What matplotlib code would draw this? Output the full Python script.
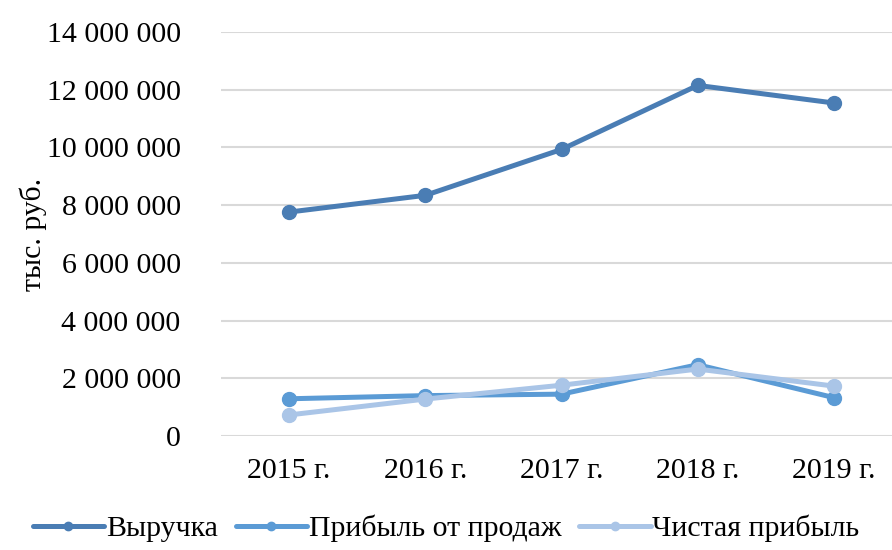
import numpy as np
import matplotlib.pyplot as plt
from matplotlib.ticker import FuncFormatter

plt.rcParams['font.family'] = ['Liberation Serif', 'DejaVu Serif']

years = ['2015 г.', '2016 г.', '2017 г.', '2018 г.', '2019 г.']
revenue = [7760000, 8340000, 9930000, 12150000, 11540000]
sales_profit = [1290000, 1400000, 1450000, 2470000, 1330000]
net_profit = [730000, 1280000, 1760000, 2320000, 1730000]

series = [
    ('Выручка', revenue, '#4a7db4'),
    ('Прибыль от продаж', sales_profit, '#5b9bd5'),
    ('Чистая прибыль', net_profit, '#aac5e7'),
]

fig = plt.figure(figsize=(8.92, 5.5), dpi=100)
ax = fig.add_axes([221 / 892, 1 - 436 / 550, 681 / 892, 404 / 550])

x = np.arange(len(years))
for name, vals, col in series:
    ax.plot(x, vals, color=col, lw=3.6, marker='o', ms=10, label=name,
            solid_capstyle='round', zorder=3)

ax.set_xlim(-0.5, len(years) - 0.5)
ax.set_ylim(0, 14000000)
ax.set_yticks(np.arange(0, 14000001, 2000000))
ax.yaxis.set_major_formatter(FuncFormatter(lambda v, p: f'{int(v):,}'.replace(',', ' ')))
ax.set_xticks(x)
ax.set_xticklabels(years)
ax.tick_params(length=0, labelsize=21.5, colors='black')
ax.tick_params(axis='y', pad=29)
ax.tick_params(axis='x', pad=16)
ax.grid(axis='y', color='#d9d9d9', lw=1.5)
ax.set_axisbelow(True)
for s in ax.spines.values():
    s.set_visible(False)
ax.set_ylabel('тыс. руб.', fontsize=21.5)
ax.yaxis.set_label_coords(-0.255, 0.5)

fig.legend(loc='lower center', bbox_to_anchor=(0.5, -0.035), ncol=3, frameon=False,
           fontsize=21.5, handlelength=2.4, handletextpad=0.05, columnspacing=0.6,
           markerscale=0.6)

fig.savefig('out.png', dpi=100)
